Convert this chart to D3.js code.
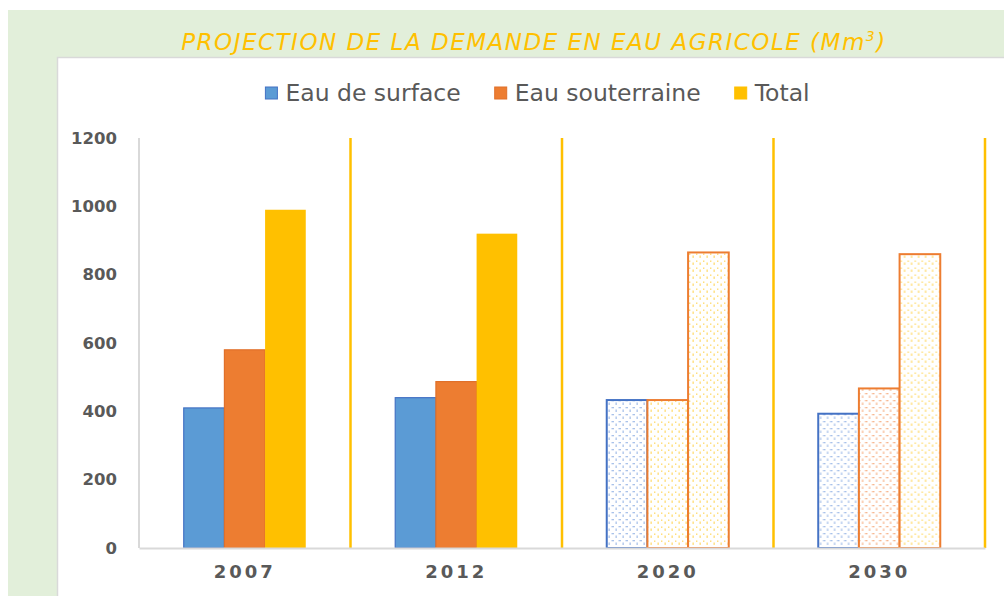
<!DOCTYPE html>
<html>
<head>
<meta charset="utf-8">
<script src="https://d3js.org/d3.v7.min.js"></script>
<style>
  html, body { margin: 0; padding: 0; background: #ffffff; }
  svg { display: block; }
  text { font-family: "DejaVu Sans", Verdana, sans-serif; }
</style>
</head>
<body>
<svg id="chart" width="1004" height="596"></svg>
<script>
// chart values
const years = ['2007', '2012', '2020', '2030'];
const seriesNames = ['Eau de surface', 'Eau souterraine', 'Total'];
const surface = [410, 440, 433, 393];
const souterraine = [580, 487, 433, 467];
const total = [990, 920, 865, 860];
const projectedYears = ['2020', '2030'];
const yTicks = [0, 200, 400, 600, 800, 1000, 1200];

const W = 1004, H = 596;
const svg = d3.select('#chart');

// pattern fills for projected bars
const defs = svg.append('defs');
function makePattern(id, color, dash) {
  const p = defs.append('pattern')
    .attr('id', id)
    .attr('patternUnits', 'userSpaceOnUse')
    .attr('width', 7).attr('height', 7);
  p.append('rect').attr('width', 7).attr('height', 7).attr('fill', '#ffffff');
  if (dash) {
    p.append('rect').attr('x', 0.5).attr('y', 1).attr('width', 2.5).attr('height', 1.3).attr('fill', color);
    p.append('rect').attr('x', 4.5).attr('y', 3.5).attr('width', 1.3).attr('height', 2.5).attr('fill', color);
  } else {
    p.append('rect').attr('x', 1).attr('y', 1.5).attr('width', 1.4).attr('height', 1.4).attr('fill', color);
    p.append('rect').attr('x', 4.5).attr('y', 3.5).attr('width', 1.3).attr('height', 2.4).attr('fill', color);
  }
}
makePattern('pBlue', '#a9c2ea', true);
makePattern('pOrange', '#f7b892', true);
makePattern('pYellow', '#ffdc70', false);

// background panels
svg.append('rect').attr('x', 8).attr('y', 10).attr('width', W - 8).attr('height', H - 10)
  .attr('fill', '#e2efda');
svg.append('rect').attr('x', 57.5).attr('y', 57.5).attr('width', W).attr('height', H)
  .attr('fill', '#ffffff').attr('stroke', '#d9d9d9').attr('stroke-width', 1.5);

// title
const title = svg.append('text')
  .attr('x', 534).attr('y', 50)
  .attr('text-anchor', 'middle')
  .attr('font-size', 23)
  .attr('font-style', 'italic')
  .attr('letter-spacing', 1.5)
  .attr('fill', '#ffc000');
title.append('tspan').text('PROJECTION DE LA DEMANDE EN EAU AGRICOLE (Mm');
title.append('tspan').attr('font-size', 14).attr('dy', -9).text('3');
title.append('tspan').attr('dy', 9).text(')');

// scales
const x = d3.scaleBand().domain(years).range([139, 985]).paddingInner(0).paddingOuter(0);
const xs = d3.scaleBand().domain(seriesNames).range([0, x.bandwidth()]).paddingInner(0).paddingOuter(1.1);
const y = d3.scaleLinear().domain([0, 1200]).range([548, 138]);

// y axis
const yAxis = svg.append('g')
  .attr('transform', 'translate(139,0)')
  .call(d3.axisLeft(y).tickValues(yTicks).tickFormat(d3.format('d')).tickSize(0).tickPadding(22));
yAxis.select('.domain').remove();
yAxis.selectAll('text')
  .attr('font-family', '"DejaVu Sans", Verdana, sans-serif')
  .attr('font-size', 16.5)
  .attr('font-weight', 'bold')
  .attr('fill', '#595959');

svg.append('line')
  .attr('x1', 139).attr('x2', 139).attr('y1', y(1200)).attr('y2', y(0))
  .attr('stroke', '#d9d9d9').attr('stroke-width', 2);

// category separators
svg.append('g').selectAll('line')
  .data(years)
  .join('line')
  .attr('x1', d => x(d) + x.bandwidth()).attr('x2', d => x(d) + x.bandwidth())
  .attr('y1', y(1200)).attr('y2', y(0))
  .attr('stroke', '#ffc000').attr('stroke-width', 2.5);

// bars
const rows = years.map((yr, i) => ({
  year: yr,
  values: [
    { s: seriesNames[0], v: surface[i] },
    { s: seriesNames[1], v: souterraine[i] },
    { s: seriesNames[2], v: total[i] }
  ]
}));

function barFill(yr, si) {
  const proj = projectedYears.includes(yr);
  if (!proj) return ['#5b9bd5', '#ed7d31', '#ffc000'][si];
  if (si === 0) return 'url(#pBlue)';
  if (si === 1) return yr === '2030' ? 'url(#pOrange)' : 'url(#pYellow)';
  return 'url(#pYellow)';
}
function barStroke(yr, si) {
  const proj = projectedYears.includes(yr);
  if (!proj) return ['#4472c4', '#e0702a', 'none'][si];
  return si === 0 ? '#4472c4' : '#ed7d31';
}

const groups = svg.append('g').selectAll('g')
  .data(rows)
  .join('g')
  .attr('transform', d => `translate(${x(d.year)},0)`);

groups.selectAll('rect')
  .data(d => d.values.map((e, si) => ({ ...e, year: d.year, si })))
  .join('rect')
  .attr('x', d => xs(d.s))
  .attr('y', d => y(d.v))
  .attr('width', xs.bandwidth())
  .attr('height', d => y(0) - y(d.v))
  .attr('fill', d => barFill(d.year, d.si))
  .attr('stroke', d => barStroke(d.year, d.si))
  .attr('stroke-width', d => projectedYears.includes(d.year) ? 2 : 1.2);

// x axis
const xAxis = svg.append('g')
  .attr('transform', `translate(0,${y(0)})`)
  .call(d3.axisBottom(x).tickSize(0).tickPadding(17));
xAxis.select('.domain').attr('stroke', '#d9d9d9').attr('stroke-width', 2);
xAxis.selectAll('text')
  .attr('font-family', '"DejaVu Sans", Verdana, sans-serif')
  .attr('font-size', 18)
  .attr('font-weight', 'bold')
  .attr('letter-spacing', 3)
  .attr('fill', '#595959');

// legend
const legendColors = ['#5b9bd5', '#ed7d31', '#ffc000'];
const legendStroke = ['#4472c4', '#e0702a', '#ffc000'];
const legend = svg.append('g');
let lx = 0;
seriesNames.forEach((name, i) => {
  const item = legend.append('g').attr('transform', `translate(${lx},0)`);
  item.append('rect').attr('x', 0).attr('y', -6).attr('width', 12).attr('height', 12)
    .attr('fill', legendColors[i]).attr('stroke', legendStroke[i]).attr('stroke-width', 1);
  const t = item.append('text').attr('x', 20).attr('y', 0).attr('dy', '0.35em')
    .attr('font-size', 23.5).attr('fill', '#595959').text(name);
  lx += 20 + t.node().getComputedTextLength() + 34;
});
lx -= 34;
legend.attr('transform', `translate(${537.5 - lx / 2},93)`);
</script>
</body>
</html>
